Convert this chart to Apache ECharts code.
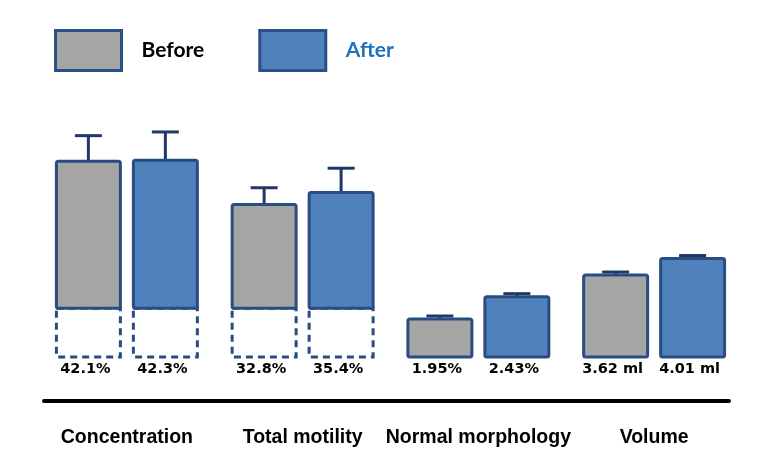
<!DOCTYPE html>
<html>
<head>
<meta charset="utf-8">
<script src="https://cdn.jsdelivr.net/npm/echarts@6/dist/echarts.min.js"></script>
<style>
html,body{margin:0;padding:0;background:#fff;}
#chart{width:759px;height:470px;}
</style>
</head>
<body>
<div id="chart"></div>
<script>
// ---- data ----
const categories = ['Concentration', 'Total motility', 'Normal morphology', 'Volume'];
const seriesNames = ['Before', 'After'];
const beforeValues = [42.1, 32.8, 1.95, 3.62];
const afterValues = [42.3, 35.4, 2.43, 4.01];
const beforeErrors = [5.5, 3.6, 0.065, 0.07];
const afterErrors = [6.1, 5.2, 0.065, 0.07];
const beforeLabels = ['42.1%', '32.8%', '1.95%', '3.62 ml'];
const afterLabels = ['42.3%', '35.4%', '2.43%', '4.01 ml'];
const dashedTops = [10.5, 10.5, 0, 0];      // part of the bar drawn as dashed outline
const scaleOfGroup = [0, 0, 1, 2];          // which value scale each group uses

// ---- styling ----
const fills = ['#A5A5A5', '#4F81BD'];
const borderColor = '#2A4C80';
const errColor = '#1F3864';

const valuesBySeries = [beforeValues, afterValues];
const errorsBySeries = [beforeErrors, afterErrors];
const labelsBySeries = [beforeLabels, afterLabels];

function makeRender(side) {
  const labels = labelsBySeries[side];
  const sgn = side === 0 ? -1 : 1;
  return function (params, api) {
    const ci = api.value(0);
    const v = api.value(1);
    const e = api.value(2);
    const d = api.value(3);
    const band = api.size([1, 0])[0];
    const top = api.coord([ci, v]);
    const cx = top[0] + sgn * 0.219 * band;
    const w = 0.364 * band;
    const yTop = top[1];
    const yBase = params.coordSys.y + params.coordSys.height;
    const yCut = d > 0 ? api.coord([ci, d])[1] : yBase;
    const yErr = api.coord([ci, v + e])[1];
    const children = [];
    if (d > 0) {
      children.push({
        type: 'rect',
        shape: { x: cx - w / 2, y: yCut, width: w, height: yBase - yCut },
        style: { fill: '#fff', stroke: borderColor, lineWidth: 3, lineDash: [7, 5] }
      });
    }
    children.push({
      type: 'line',
      shape: { x1: cx, y1: yTop, x2: cx, y2: yErr },
      style: { stroke: errColor, lineWidth: 3 }
    });
    children.push({
      type: 'line',
      shape: { x1: cx - 13.5, y1: yErr, x2: cx + 13.5, y2: yErr },
      style: { stroke: errColor, lineWidth: 3 }
    });
    children.push({
      type: 'rect',
      shape: { x: cx - w / 2, y: yTop, width: w, height: yCut - yTop, r: 2 },
      style: { fill: fills[side], stroke: borderColor, lineWidth: 3 }
    });
    children.push({
      type: 'text',
      style: {
        text: labels[ci], x: cx - 3, y: yBase + 12,
        align: 'center', verticalAlign: 'middle',
        font: 'bold 14.5px "DejaVu Sans"', fill: '#000'
      }
    });
    return { type: 'group', children: children };
  };
}

const series = [];
[0, 1].forEach(function (side) {
  [0, 1, 2].forEach(function (scale) {
    const data = [];
    categories.forEach(function (c, i) {
      if (scaleOfGroup[i] === scale) {
        data.push([i, valuesBySeries[side][i], errorsBySeries[side][i], dashedTops[i]]);
      }
    });
    series.push({
      type: 'custom',
      name: seriesNames[side],
      xAxisIndex: 0,
      yAxisIndex: scale,
      itemStyle: { color: fills[side] },
      encode: { x: 0, y: 1 },
      renderItem: makeRender(side),
      data: data,
      silent: true
    });
  });
});

const chart = echarts.init(document.getElementById('chart'), null, { renderer: 'canvas' });
chart.setOption({
  animation: false,
  backgroundColor: '#fff',
  legend: {
    left: 54, top: 29, padding: 0,
    itemWidth: 66, itemHeight: 40, itemGap: 54,
    icon: 'rect',
    itemStyle: { borderColor: '#2B4F86', borderWidth: 3 },
    textStyle: { fontFamily: 'Lato', fontWeight: 'bold', fontSize: 21, padding: [0, 0, 0, 15] },
    data: [
      { name: 'Before', itemStyle: { color: fills[0] }, textStyle: { color: '#000' } },
      { name: 'After', itemStyle: { color: fills[1] }, textStyle: { color: '#1F70C1' } }
    ],
    selectedMode: false
  },
  grid: [
    { left: 39, right: 17, top: 124.5, bottom: 113 },
    { left: 44, right: 30, top: 300, bottom: 69 }
  ],
  xAxis: [
    {
      type: 'category', gridIndex: 0, data: categories,
      axisLine: { show: false }, axisTick: { show: false },
      axisLabel: {
        margin: 71, color: '#000', fontFamily: 'Liberation Sans',
        fontWeight: 'bold', fontSize: 19.5, interval: 0
      }
    },
    {
      type: 'value', gridIndex: 1, min: 0, max: 1,
      axisLine: { show: true, onZero: false, lineStyle: { color: '#000', width: 4 } },
      axisTick: { show: false }, axisLabel: { show: false }, splitLine: { show: false }
    }
  ],
  yAxis: [
    { type: 'value', gridIndex: 0, min: 0, max: 50, show: false },
    { type: 'value', gridIndex: 0, min: 1.133, max: 6.133, show: false },
    { type: 'value', gridIndex: 0, min: 1.68, max: 7.18, show: false },
    { type: 'value', gridIndex: 1, min: 0, max: 1, show: false }
  ],
  series: series
});
</script>
</body>
</html>
